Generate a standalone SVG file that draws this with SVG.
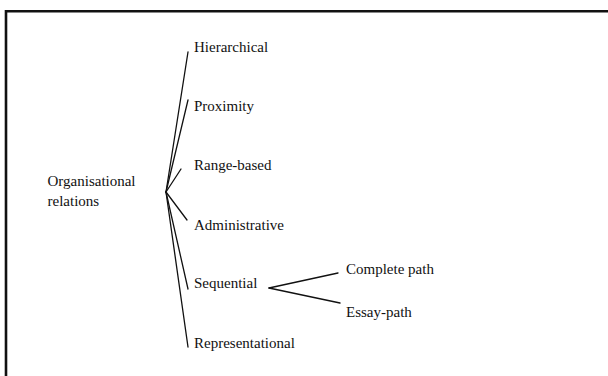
<svg xmlns="http://www.w3.org/2000/svg" width="608" height="376" viewBox="0 0 608 376">
  <style>
    .frame { stroke: #111; stroke-width: 2.6; fill: none; }
    .edge { stroke: #111; stroke-width: 1.3; fill: none; stroke-linecap: round; }
    .lbl { font-family: "Liberation Serif", "Times New Roman", serif; font-size: 15px; fill: #111; }
  </style>
  <rect width="608" height="376" fill="#fff"/>
  <!-- open frame: top and left edges -->
  <path class="frame" d="M6 376 V11.3 H608"/>

  <g id="connectors">
    <line class="edge" x1="166" y1="192" x2="188" y2="52"/>
    <line class="edge" x1="166" y1="192" x2="188" y2="100"/>
    <line class="edge" x1="166" y1="192" x2="181" y2="169"/>
    <line class="edge" x1="166" y1="192" x2="187" y2="220"/>
    <line class="edge" x1="166" y1="192" x2="188" y2="289"/>
    <line class="edge" x1="166" y1="192" x2="188" y2="347"/>
    <line class="edge" x1="269" y1="288" x2="338" y2="273"/>
    <line class="edge" x1="269" y1="288" x2="340" y2="303"/>
  </g>

  <g id="root">
    <text class="lbl" x="47.5" y="185.5">Organisational</text>
    <text class="lbl" x="47.5" y="206">relations</text>
  </g>
  <g id="hierarchical"><text class="lbl" x="194" y="52">Hierarchical</text></g>
  <g id="proximity"><text class="lbl" x="194" y="110.5">Proximity</text></g>
  <g id="range-based"><text class="lbl" x="194" y="170">Range-based</text></g>
  <g id="administrative"><text class="lbl" x="194" y="230">Administrative</text></g>
  <g id="sequential"><text class="lbl" x="194" y="288">Sequential</text></g>
  <g id="representational"><text class="lbl" x="194" y="348">Representational</text></g>
  <g id="complete-path"><text class="lbl" x="346" y="273.5">Complete path</text></g>
  <g id="essay-path"><text class="lbl" x="346" y="317">Essay-path</text></g>
</svg>
